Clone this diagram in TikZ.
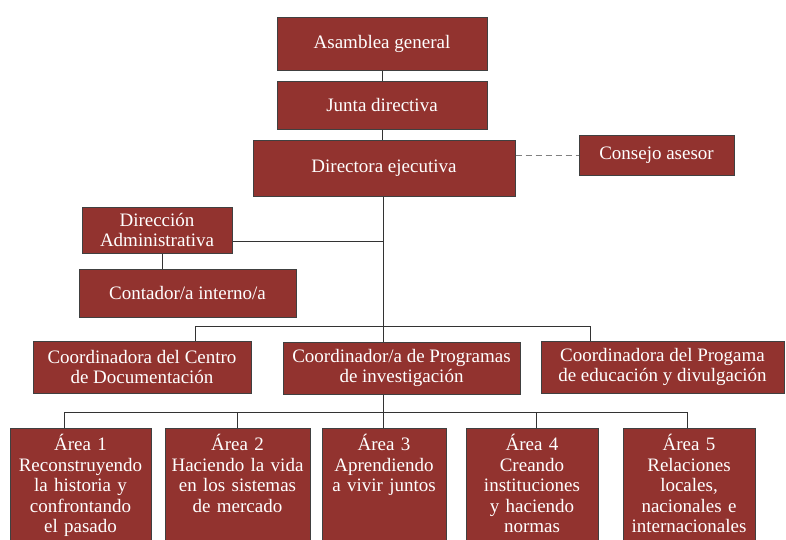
\documentclass[tikz,border=0pt]{standalone}
\usepackage{fontspec}
\setmainfont{Liberation Serif}
\definecolor{boxred}{RGB}{146,51,47}

\begin{document}
\begin{tikzpicture}
[x=1pt,y=-1pt,%
  every node/.style={inner sep=2pt},%
  box/.style={draw=black!75,line width=1pt,fill=boxred,text=white,align=center},%
  areabox/.style={box,anchor=north,text height=18pt,text depth=100pt,inner ysep=4pt},%
  link/.style={draw=black!80,line width=0.8pt},%
  dashlink/.style={draw=black!50,line width=0.8pt,dash pattern=on 6pt off 4pt}]
\fontsize{19}{20.5}\selectfont
\useasboundingbox (0,0) rectangle (786,539);
\clip (0,0) rectangle (786,539);
\node[box,minimum width=210,minimum height=53] (asamblea) at (382,43.5) {Asamblea general};
\node[box,minimum width=210,minimum height=48] (junta) at (382,105) {Junta directiva};
\node[box,minimum width=262,minimum height=56] (directora) at (384,168) {Directora ejecutiva};
\node[box,minimum width=155,minimum height=40] (consejo) at (656.5,155) {Consejo asesor};
\node[box,minimum width=150,minimum height=46,inner sep=0pt] (direccion) at (157,230) {Dirección\\Administrativa};
\node[box,minimum width=217,minimum height=48] (contador) at (187.5,293) {Contador/a interno/a};
\node[box,minimum width=218,minimum height=52,inner sep=0pt] (centro) at (142,367) {Coordinadora del Centro\\de Documentación};
\node[box,minimum width=237,minimum height=52,inner sep=0pt] (programas) at (401.5,368) {Coordinador/a de Programas\\de investigación};
\node[box,minimum width=243,minimum height=52,inner sep=0pt] (divulgacion) at (662.5,367) {Coordinadora del Progama\\de educación y divulgación};
\node[areabox,text width=137] (area1) at (80.5,428) {Área 1\\Reconstruyendo\\la historia y\\confrontando\\el pasado};
\node[areabox,text width=141] (area2) at (237.5,428) {Área 2\\Haciendo la vida\\en los sistemas\\de mercado};
\node[areabox,text width=120] (area3) at (384,428) {Área 3\\Aprendiendo\\a vivir juntos};
\node[areabox,text width=128] (area4) at (532,428) {Área 4\\Creando\\instituciones\\y haciendo\\normas};
\node[areabox,text width=128] (area5) at (689,428) {Área 5\\Relaciones\\locales,\\nacionales e\\internacionales};

\coordinate (adm) at (383,241);
\coordinate (hub) at (383,326);
\coordinate (l1) at (195,326);
\coordinate (r1) at (590,326);
\coordinate (hub2) at (383,412);

\draw[link] (asamblea) -- (junta);
\draw[link] (junta.south) -- (junta.south |- directora.north);
\draw[dashlink] (directora.east |- consejo.west) -- (consejo.west);
\draw[link] (directora.south -| hub) -- (hub);
\draw[link] (adm -| direccion.east) -- (adm);
\draw[link] ([xshift=5pt]direccion.south) -- ([xshift=5pt]direccion.south |- contador.north);
\draw[link] (l1 |- centro.north) -- (l1) -- (r1) -- (r1 |- divulgacion.north);
\draw[link] (hub) -- (hub |- programas.north);
\draw[link] (programas.south -| hub2) -- (hub2);
\foreach \x [count=\i] in {64,237,383,536,687} {
  \coordinate (d\i) at (\x,412);
  \draw[link] (d\i) -- (d\i |- area\i.north);
}
\draw[link] (d1) -- (d5);
\end{tikzpicture}
\end{document}
